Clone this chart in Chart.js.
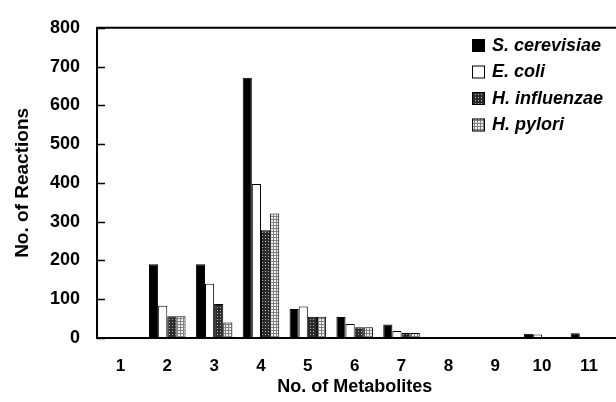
<!DOCTYPE html>
<html>
<head>
<meta charset="utf-8">
<script src="https://cdn.jsdelivr.net/npm/chart.js@4.4.1/dist/chart.umd.min.js"></script>
<style>
  html, body { margin: 0; padding: 0; background: #fff; }
  #wrap { width: 616px; height: 402px; }
</style>
</head>
<body>
<div id="wrap"><canvas id="chart" width="616" height="402"></canvas></div>
<script>
// ==============================
// DATA
// ==============================

const metabolites = ['1', '2', '3', '4', '5', '6', '7', '8', '9', '10', '11'];
const speciesNames = ['S. cerevisiae', 'E. coli', 'H. influenzae', 'H. pylori'];

const cerevisiae = [0, 190, 190, 671, 75, 54, 35, 2, 1, 11, 12];
const ecoli      = [0, 83, 140, 397, 81, 36, 18, 2, 1, 9, 0];
const influenzae = [0, 56, 88, 278, 55, 28, 13, 2, 1, 0, 0];
const pylori     = [0, 56, 40, 321, 55, 28, 13, 2, 1, 0, 0];

const yTicks = [0, 100, 200, 300, 400, 500, 600, 700, 800];

// ==============================
// FILL PATTERNS
// ==============================

function makePattern(bg, dot, lines) {
    const c = document.createElement('canvas');
    c.width = 3;
    c.height = 3;
    const g = c.getContext('2d');
    g.fillStyle = bg;
    g.fillRect(0, 0, 3, 3);
    g.fillStyle = dot;
    if (lines) {
        g.fillRect(0, 0, 3, 1);
        g.fillRect(0, 0, 1, 3);
    } else {
        g.fillRect(1, 1, 1, 1);
    }
    return g.createPattern(c, 'repeat');
}

const darkCheck = makePattern('#2a2a2a', '#bbbbbb', false);
const lightCheck = makePattern('#f0f0f0', '#808080', true);

const fills = ['#000000', '#ffffff', darkCheck, lightCheck];

// ==============================
// PLUGINS
// ==============================

const FONT = '"Liberation Sans", Arial, sans-serif';

// inward tick marks on the y axis + top/bottom frame lines
const framePlugin = {
    id: 'frame',
    afterDraw(chart) {
        const { ctx, chartArea } = chart;
        const y = chart.scales.y;
        ctx.save();
        ctx.strokeStyle = '#000';
        ctx.lineWidth = 1.5;
        ctx.beginPath();
        yTicks.forEach(v => {
            const py = Math.round(y.getPixelForValue(v)) + 0.5;
            ctx.moveTo(chartArea.left, py);
            ctx.lineTo(chartArea.left + 8, py);
        });
        ctx.stroke();

        ctx.lineWidth = 2;
        ctx.beginPath();
        ctx.moveTo(chartArea.left - 1, chartArea.top);
        ctx.lineTo(chart.width, chartArea.top);
        ctx.moveTo(chartArea.left - 1, chartArea.bottom);
        ctx.lineTo(chart.width, chartArea.bottom);
        ctx.stroke();
        ctx.restore();
    }
};

// legend drawn inside the plot, top right
const insideLegend = {
    id: 'insideLegend',
    afterDraw(chart) {
        const { ctx } = chart;
        ctx.save();
        ctx.font = 'italic bold 18px ' + FONT;
        ctx.textBaseline = 'middle';
        chart.data.datasets.forEach((ds, i) => {
            const cy = 45 + i * 26.5;
            ctx.fillStyle = ds.backgroundColor;
            ctx.fillRect(472, cy - 6, 13, 13);
            ctx.strokeStyle = '#000';
            ctx.lineWidth = 1;
            ctx.strokeRect(472.5, cy - 5.5, 12, 12);
            ctx.fillStyle = '#000';
            ctx.fillText(ds.label, 492, cy + 1);
        });
        ctx.restore();
    }
};

// ==============================
// CHART
// ==============================

const datasets = [cerevisiae, ecoli, influenzae, pylori].map((values, i) => ({
    label: speciesNames[i],
    data: values,
    backgroundColor: fills[i],
    borderColor: '#000',
    borderWidth: 1,
    borderSkipped: 'bottom',
    categoryPercentage: 0.78,
    barPercentage: 1.0
}));

new Chart(document.getElementById('chart'), {
    type: 'bar',
    data: { labels: metabolites, datasets },
    options: {
        responsive: false,
        animation: false,
        layout: { padding: { top: 21, right: 2, left: 0, bottom: 0 } },
        plugins: {
            legend: { display: false },
            tooltip: { enabled: false }
        },
        scales: {
            x: {
                offset: true,
                grid: { display: false, drawTicks: false },
                border: { display: true, color: '#000', width: 2 },
                ticks: {
                    color: '#000',
                    padding: 18,
                    maxRotation: 0,
                    font: { family: FONT, size: 17, weight: 'bold' }
                },
                title: {
                    display: true,
                    text: 'No. of Metabolites',
                    color: '#000',
                    padding: { top: 0, bottom: 4 },
                    font: { family: FONT, size: 18, weight: 'bold' }
                },
                afterFit(scale) { scale.height = 64; }
            },
            y: {
                min: 0,
                max: 800,
                afterBuildTicks(scale) {
                    scale.ticks = yTicks.map(v => ({ value: v }));
                },
                grid: { display: false, drawTicks: false },
                border: { display: true, color: '#000', width: 2 },
                ticks: {
                    color: '#000',
                    padding: 17,
                    font: { family: FONT, size: 18, weight: 'bold' }
                },
                title: {
                    display: true,
                    text: 'No. of Reactions',
                    color: '#000',
                    padding: { top: 11, bottom: 0 },
                    font: { family: FONT, size: 19, weight: 'bold' }
                },
                afterFit(scale) { scale.width = 97; }
            }
        }
    },
    plugins: [framePlugin, insideLegend]
});
</script>
</body>
</html>
